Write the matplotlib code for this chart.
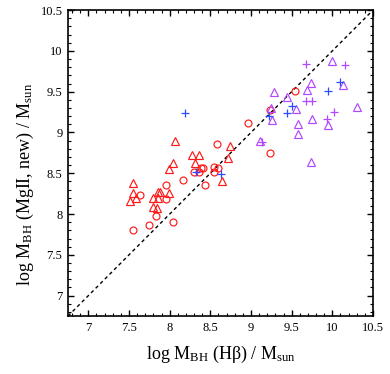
import matplotlib.pyplot as plt
from matplotlib.ticker import MultipleLocator

# red circles
rc_x = [8.96, 8.58, 9.23, 9.54, 9.23, 8.16, 8.30, 8.36, 8.38, 8.41, 8.54, 8.60, 8.54,
        8.43, 7.95, 7.64, 7.96, 7.83, 7.74, 8.04, 7.55]
rc_y = [9.11, 8.86, 9.27, 9.51, 8.75, 8.42, 8.52, 8.52, 8.57, 8.57, 8.58, 8.56, 8.51,
        8.36, 8.35, 8.23, 8.18, 7.98, 7.87, 7.90, 7.81]

# red triangles
rt_x = [8.06, 8.74, 8.27, 8.36, 8.72, 8.31, 8.04, 7.99, 8.64, 7.55, 7.55, 7.51, 7.58,
        7.86, 7.88, 7.99, 7.80, 7.86, 7.79, 7.84]
rt_y = [8.89, 8.83, 8.72, 8.72, 8.69, 8.63, 8.62, 8.55, 8.41, 8.38, 8.26, 8.16, 8.20,
        8.27, 8.27, 8.26, 8.20, 8.20, 8.09, 8.08]

# blue pluses
bp_x = [8.19, 8.32, 8.63, 9.22, 9.44, 9.51, 9.95, 10.10]
bp_y = [9.24, 8.51, 8.49, 9.20, 9.24, 9.33, 9.51, 9.62]

# purple pluses
pp_x = [9.68, 10.15, 9.68, 9.75, 10.02, 9.94, 9.13]
pp_y = [9.84, 9.83, 9.38, 9.39, 9.25, 9.16, 8.88]

# purple triangles
pt_x = [10.00, 9.74, 10.13, 9.28, 9.69, 9.44, 10.30, 9.25, 9.55, 9.26, 9.75, 9.95,
        9.58, 9.58, 9.11, 9.74]
pt_y = [9.88, 9.61, 9.58, 9.49, 9.52, 9.43, 9.31, 9.30, 9.29, 9.15, 9.16, 9.09,
        9.10, 8.98, 8.90, 8.64]

lims = [6.75, 10.5]

plt.rcParams['font.family'] = ['Liberation Serif', 'DejaVu Serif']
plt.rcParams['mathtext.fontset'] = 'custom'
plt.rcParams['mathtext.rm'] = 'Liberation Serif'
plt.rcParams['mathtext.it'] = 'Liberation Serif:italic'

fig = plt.figure(figsize=(3.9, 3.74), dpi=100)
ax = fig.add_axes([0.1744, 0.155, 0.782, 0.818])

red = '#ff1a1a'
blue = '#2a4dff'
purple = '#b347ff'

ax.plot(lims, lims, color='black', lw=1.0, ls=(0, (2.5, 2.2)), zorder=1)

ax.plot(rt_x, rt_y, ls='none', marker='^', ms=5.4, mfc='none', mec=red, mew=0.85)
ax.plot(rc_x, rc_y, ls='none', marker='o', ms=5.0, mfc='none', mec=red, mew=0.85)
ax.plot(pt_x, pt_y, ls='none', marker='^', ms=5.4, mfc='none', mec=purple, mew=0.85)
ax.plot(pp_x, pp_y, ls='none', marker='+', ms=5.5, mec=purple, mew=0.9)
ax.plot(bp_x, bp_y, ls='none', marker='+', ms=5.5, mec=blue, mew=0.9)

ax.set_xlim(lims)
ax.set_ylim(lims)
ax.xaxis.set_major_locator(MultipleLocator(0.5))
ax.yaxis.set_major_locator(MultipleLocator(0.5))
ax.xaxis.set_minor_locator(MultipleLocator(0.1))
ax.yaxis.set_minor_locator(MultipleLocator(0.1))
ax.xaxis.set_major_formatter(plt.FuncFormatter(lambda v, p: f'{v:g}'))
ax.yaxis.set_major_formatter(plt.FuncFormatter(lambda v, p: f'{v:g}'))

ax.tick_params(which='both', direction='in', top=True, right=True, labelsize=9, pad=4)
ax.tick_params(which='major', length=4.5, width=1.0)
ax.tick_params(which='minor', length=2.5, width=0.8)
for s in ax.spines.values():
    s.set_linewidth(1.2)

ax.set_xlabel('log M$_{\\rm BH}$ (Hβ) / M$_{\\rm sun}$', fontsize=13)
ax.set_ylabel('log M$_{\\rm BH}$ (MgII, new) / M$_{\\rm sun}$', fontsize=13)
ax.xaxis.set_label_coords(0.5, -0.09)
ax.yaxis.set_label_coords(-0.105, 0.43)

fig.savefig('out.png', dpi=100)
